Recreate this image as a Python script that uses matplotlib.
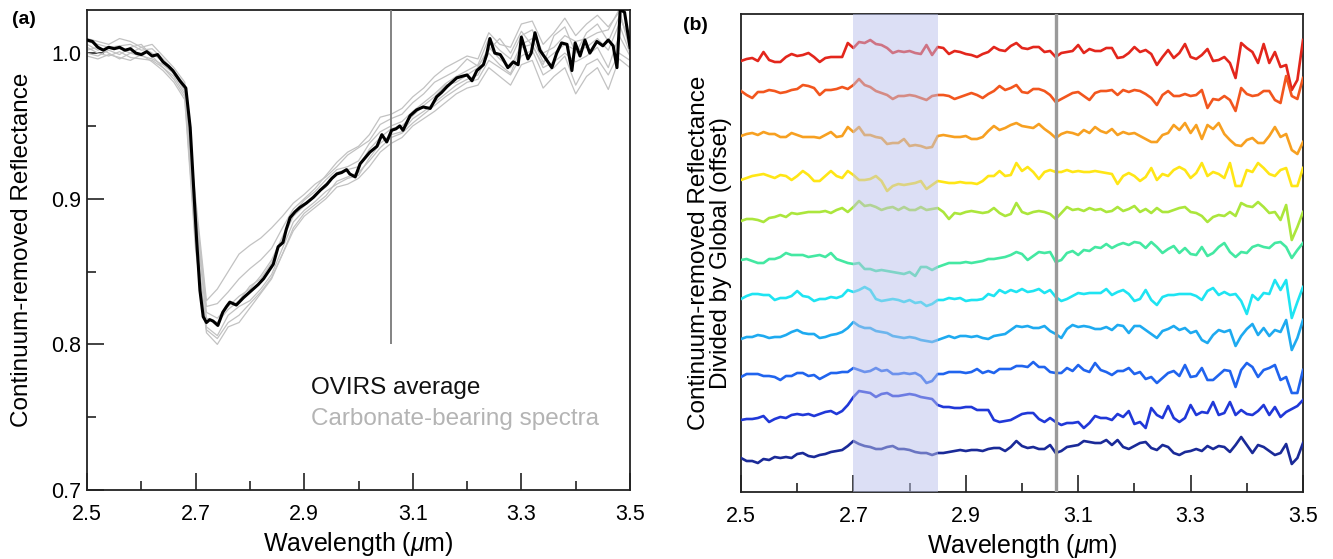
import numpy as np
import matplotlib
matplotlib.use("Agg")
import matplotlib.pyplot as plt
from matplotlib.ticker import FixedLocator, FormatStrFormatter

plt.rcParams['font.family'] = ['Liberation Sans', 'DejaVu Sans']
plt.rcParams['mathtext.fontset'] = 'custom'
plt.rcParams['mathtext.it'] = 'Liberation Sans:italic'
plt.rcParams['mathtext.rm'] = 'Liberation Sans'

# ---------------- panel (a): OVIRS average and carbonate-bearing spectra
avg_wl = [2.500, 2.510, 2.520, 2.530, 2.540, 2.550, 2.560, 2.570, 2.580, 2.590,
          2.600, 2.610, 2.620, 2.630, 2.640, 2.650, 2.658, 2.671, 2.682, 2.690,
          2.696, 2.702, 2.708, 2.714, 2.720, 2.726, 2.732, 2.741, 2.750, 2.757,
          2.763, 2.775, 2.788, 2.797, 2.806, 2.815, 2.825, 2.834, 2.843, 2.852,
          2.861, 2.867, 2.874, 2.883, 2.892, 2.904, 2.917, 2.930, 2.942, 2.951,
          2.960, 2.969, 2.978, 2.984, 2.994, 3.003, 3.012, 3.021, 3.034, 3.043,
          3.052, 3.061, 3.069, 3.076, 3.082, 3.095, 3.107, 3.119, 3.132, 3.144,
          3.153, 3.163, 3.172, 3.181, 3.190, 3.200, 3.209, 3.218, 3.230, 3.236,
          3.242, 3.251, 3.261, 3.266, 3.275, 3.285, 3.294, 3.300, 3.312, 3.318,
          3.325, 3.334, 3.347, 3.356, 3.365, 3.374, 3.384, 3.393, 3.399, 3.408,
          3.417, 3.426, 3.439, 3.450, 3.460, 3.469, 3.476, 3.482, 3.490, 3.500]
avg_refl = [1.009, 1.008, 1.004, 1.002, 1.004, 1.003, 1.004, 1.002, 1.003, 1.000,
            0.999, 1.001, 0.998, 0.999, 0.994, 0.991, 0.988, 0.981, 0.976, 0.949,
            0.910, 0.871, 0.837, 0.819, 0.815, 0.817, 0.816, 0.813, 0.822, 0.826,
            0.829, 0.827, 0.832, 0.835, 0.838, 0.841, 0.845, 0.850, 0.855, 0.867,
            0.870, 0.879, 0.887, 0.891, 0.894, 0.897, 0.901, 0.906, 0.910, 0.914,
            0.917, 0.918, 0.920, 0.917, 0.915, 0.924, 0.928, 0.932, 0.936, 0.944,
            0.939, 0.947, 0.948, 0.950, 0.947, 0.957, 0.961, 0.963, 0.962, 0.970,
            0.973, 0.977, 0.980, 0.983, 0.984, 0.985, 0.981, 0.988, 0.992, 0.999,
            1.010, 1.000, 0.999, 0.996, 0.990, 0.994, 0.992, 1.011, 0.996, 1.000,
            1.014, 1.002, 0.995, 0.990, 1.000, 1.007, 1.006, 0.988, 1.007, 0.998,
            1.009, 1.000, 1.008, 1.005, 1.009, 1.005, 0.990, 1.030, 1.028, 1.004]

spec_wl = np.round(np.arange(2.50, 3.501, 0.02), 2)
carb_1 = [1.000, 0.998, 1.002, 0.999, 1.004, 1.006, 0.998, 0.990, 0.984, 0.972,
          0.900, 0.830, 0.838, 0.850, 0.862, 0.868, 0.873, 0.880, 0.888, 0.897,
          0.903, 0.910, 0.915, 0.922, 0.930, 0.935, 0.940, 0.951, 0.955, 0.958,
          0.966, 0.972, 0.980, 0.984, 0.988, 0.996, 0.991, 1.002, 1.010, 1.000,
          1.015, 1.005, 0.992, 1.012, 1.018, 1.000, 1.014, 1.020, 1.008, 1.025,
          1.010]
carb_2 = [1.004, 1.000, 0.998, 1.001, 0.997, 0.996, 0.995, 0.990, 0.982, 0.970,
          0.870, 0.808, 0.800, 0.812, 0.815, 0.825, 0.835, 0.845, 0.862, 0.880,
          0.890, 0.896, 0.902, 0.912, 0.915, 0.918, 0.926, 0.935, 0.942, 0.945,
          0.952, 0.958, 0.964, 0.970, 0.975, 0.980, 0.982, 0.995, 0.990, 0.985,
          0.998, 1.002, 0.985, 0.990, 0.998, 0.978, 0.992, 0.996, 0.985, 1.000,
          0.995]
carb_3 = [1.008, 1.006, 1.004, 1.005, 1.006, 1.002, 1.003, 0.996, 0.988, 0.978,
          0.890, 0.822, 0.818, 0.826, 0.833, 0.838, 0.847, 0.858, 0.874, 0.890,
          0.899, 0.905, 0.913, 0.920, 0.922, 0.926, 0.938, 0.946, 0.950, 0.953,
          0.960, 0.966, 0.972, 0.979, 0.984, 0.988, 0.992, 1.010, 1.002, 0.996,
          1.012, 1.016, 1.000, 1.004, 1.012, 1.008, 1.010, 1.014, 1.016, 1.030,
          1.002]
carb_4 = [1.002, 1.004, 1.000, 0.996, 1.000, 0.998, 0.996, 0.992, 0.986, 0.974,
          0.875, 0.812, 0.806, 0.820, 0.826, 0.830, 0.838, 0.848, 0.866, 0.884,
          0.892, 0.898, 0.905, 0.910, 0.914, 0.916, 0.928, 0.938, 0.944, 0.946,
          0.955, 0.960, 0.966, 0.972, 0.978, 0.982, 0.985, 1.000, 0.992, 0.986,
          1.004, 1.006, 0.990, 0.994, 1.000, 0.994, 0.998, 1.004, 0.990, 1.012,
          0.998]
carb_5 = [1.006, 1.002, 1.004, 1.003, 1.000, 1.004, 1.000, 0.994, 0.986, 0.976,
          0.885, 0.818, 0.815, 0.824, 0.830, 0.840, 0.845, 0.856, 0.872, 0.888,
          0.895, 0.903, 0.908, 0.918, 0.920, 0.922, 0.934, 0.942, 0.948, 0.950,
          0.957, 0.964, 0.970, 0.978, 0.980, 0.985, 0.990, 1.004, 0.996, 0.990,
          1.006, 1.010, 0.994, 1.000, 1.006, 1.002, 1.004, 1.010, 1.002, 1.020,
          1.000]
carb_6 = [1.010, 1.008, 1.006, 1.010, 1.008, 1.004, 1.006, 0.998, 0.990, 0.980,
          0.895, 0.826, 0.828, 0.836, 0.845, 0.852, 0.858, 0.866, 0.880, 0.893,
          0.900, 0.907, 0.916, 0.925, 0.932, 0.936, 0.944, 0.956, 0.958, 0.962,
          0.970, 0.976, 0.984, 0.990, 0.994, 0.998, 0.996, 1.014, 1.006, 1.004,
          1.020, 1.022, 1.006, 1.014, 1.024, 1.012, 1.020, 1.026, 1.018, 1.028,
          1.005]
carb_7 = [0.998, 0.996, 0.999, 0.997, 0.995, 0.999, 0.994, 0.988, 0.980, 0.968,
          0.865, 0.810, 0.804, 0.815, 0.820, 0.828, 0.836, 0.846, 0.862, 0.878,
          0.888, 0.894, 0.900, 0.908, 0.910, 0.914, 0.922, 0.932, 0.938, 0.942,
          0.950, 0.955, 0.960, 0.966, 0.972, 0.976, 0.978, 0.990, 0.984, 0.978,
          0.992, 0.995, 0.976, 0.984, 0.990, 0.972, 0.984, 0.990, 0.975, 0.996,
          0.990]
carb_spectra = [carb_1, carb_2, carb_3, carb_4, carb_5, carb_6, carb_7]

marker_wl = 3.06
marker_bottom = 0.8

# ---------------- panel (b): spectra divided by global average (offset)
ratio_wl = np.round(np.arange(2.50, 3.5001, 0.01), 2)
# deviations in units of 0.001, 2.50 ... 3.50 step 0.01
dev_red = [-1, 1, 2, -1, 8, 0, -2, -2, 3, 6, 4, 5, 7, 3, -2, 2, 3, 3, 3, 17,
           12, 18, 17, 20, 16, 15, 12, 7, 9, 8, 9, 7, 6, 15, 5, 13, 12, 6, 9, 8,
           6, 5, 3, 6, 8, 13, 10, 9, 14, 17,
           12, 11, 13, 13, 8, 9, 3, 7, 8, 9, 15, 7, 11, 9, 9, 12, 12, 2, 3, 7,
           13, 8, 10, 6, -5, 3, 10, 2, 7, 16, 3, 1, 5, 11, -1, 0, 3, -3, -18, 17,
           12, 8, -3, 16, -3, 8, -7, -5, -30, -20, 20]
dev_redorange = [2, -2, -5, 1, 1, 3, 2, 0, 1, 3, 4, 8, 7, 5, -2, 3, 3, 4, 6, 4,
                 8, 14, 8, 6, 2, 0, -2, -6, -3, -3, -2, -3, -5, -7, -3, -2, -2, -3, -6, -4,
                 -2, 0, -2, -5, -1, 2, 7, 3, 5, 8,
                 1, 0, 4, 4, 2, -2, -9, -6, -3, 0, 1, -3, -7, 0, 2, 2, 3, -2, 3, 1,
                 3, 2, -1, -5, -12, -2, 2, -3, -3, -1, -3, -2, 3, -15, -6, -7, -3, -7, -18, 5,
                 -1, -3, -2, 2, 2, -7, -10, 17, -3, -6, 15]
dev_orange = [0, 2, 3, 1, 4, 2, 2, -1, -1, 3, 1, -1, -1, -1, -2, 1, 4, -1, 0, 9,
              4, 9, 1, 1, -1, -2, -8, -7, -7, -3, -10, -9, -10, -12, -11, 0, 1, 0, -1, -1,
              0, -3, -3, -1, 5, 10, 6, 8, 11, 13,
              10, 9, 8, 12, 7, 3, -2, 2, 4, 3, 1, 6, 3, 9, 5, 3, 7, 1, 4, 2,
              3, 0, -3, -6, -6, 1, 3, 11, 6, 13, 3, 11, -3, 11, 7, 13, 2, -4, -9, -10,
              -4, -2, -7, -7, 0, 9, -1, 2, -14, -18, -6]
dev_yellow = [-2, 0, 2, 3, 4, 2, 0, 3, 2, -2, 2, 7, 3, -3, -3, 2, 7, 2, 0, 7,
              3, -2, -2, -1, 2, -3, -13, -8, -6, -7, -6, -5, -3, -11, -7, -3, -4, -5, -5, -4,
              -5, -5, -6, -3, 2, 2, 7, 2, 3, 15,
              7, 11, 6, -1, 6, 8, 6, 6, 8, 6, 7, 6, 6, 7, 6, 5, 4, -6, 2, 5,
              2, -3, 1, 10, -2, 4, 2, 8, 11, 8, 0, 5, 15, 2, 6, 4, 0, 15, -8, -8,
              8, 6, 15, 10, 4, 2, 8, 10, -8, -8, 10]
dev_lime = [-1, 1, 1, 0, -2, 2, 3, 5, 3, 7, 6, 7, 8, 8, 8, 9, 7, 10, 12, 8,
            13, 19, 14, 15, 13, 10, 12, 13, 10, 13, 10, 10, 13, 10, 11, 12, 8, 1, 7, 6,
            8, 9, 8, 7, 8, 12, 7, 4, 6, 17,
            8, 6, 8, 9, 8, 6, 1, 7, 13, 10, 11, 9, 12, 10, 11, 8, 9, 13, 9, 11,
            14, 8, 11, 7, 12, 8, 8, 10, 12, 13, 8, 7, 4, -2, 3, 5, 4, 8, 4, 17,
            14, 13, 18, 13, 7, 8, 0, 15, -20, -7, 8]
dev_green = [0, 1, -1, -3, -3, 1, 1, 3, 7, 5, 5, 5, 3, 4, 5, 3, 7, 1, -1, -3,
             -4, -3, -9, -9, -11, -10, -11, -12, -13, -14, -12, -16, -7, -7, -10, -7, -5, -3, -3, -3,
             -2, -3, -2, -1, 1, 1, 2, 3, 5, 8,
             6, 0, 4, 8, 7, 8, -2, 0, 7, 9, 5, 10, 9, 13, 12, 16, 12, 15, 17, 15,
             18, 17, 12, 18, 13, 7, 11, 14, 7, 12, 6, 5, 13, 4, 7, 13, 17, 8, 3, 8,
             7, 13, 15, 13, 12, 17, 18, 13, 2, 10, 17]
dev_cyan = [-2, 1, 3, 3, 2, 2, -3, -1, -1, 1, 6, 1, 0, -4, -2, -2, 0, -1, 1, 7,
            5, 7, 10, 7, -2, -4, -3, -2, -3, -5, -3, -6, -5, -9, -7, -3, -3, -1, -2, -1,
            -4, -3, -3, -2, 3, 1, 7, 4, 7, 5,
            8, 5, 6, 8, 4, 7, 0, -4, -2, 1, 4, 3, 4, 4, 4, 8, 2, 5, 7, 3,
            -4, -2, 7, -3, -8, 0, 2, 2, 3, 3, 3, 1, -3, 6, 9, 2, 5, 2, 3, -4,
            -17, 2, -3, 4, 3, 17, 7, 17, -21, -5, 10]
dev_sky = [-1, 1, 1, 3, 2, 0, 1, 1, 3, 6, 8, 5, 4, 4, 0, 1, 3, 4, 6, 10,
           16, 12, 10, 10, 7, 6, 5, 2, 1, 0, 1, 0, -2, -3, -4, -2, 0, 2, 0, 2,
           2, 1, 2, 0, -1, 2, 3, 4, 8, 12,
           11, 12, 10, 10, 12, 7, 4, 0, 9, 13, 11, 12, 11, 9, 9, 11, 8, 13, 12, 5,
           12, 12, 8, 4, 0, 7, 9, 12, 8, 10, 5, 7, -2, -5, 3, 8, 6, 8, -8, 2,
           9, 14, 3, 10, 2, 8, 6, 18, -12, 0, 18]
dev_blue = [-2, 1, 1, 1, -1, -1, -2, -5, -1, -1, 2, 2, -1, 0, -4, -1, 2, 2, 3, 3,
            7, 5, 3, 4, 7, 4, 5, 1, 1, 2, 1, 2, -1, -8, -6, 1, 1, 3, 3, 3,
            2, 3, 6, 2, 4, 2, 6, 6, 6, 9,
            9, 8, 13, 8, 8, 3, 2, 2, 7, 4, 10, 5, 3, 12, 5, 3, 0, 4, 4, 7,
            1, 3, -4, -2, -8, -3, 2, 4, -1, 10, -2, -1, 7, -5, -5, 0, 5, 4, -12, 5,
            12, 8, -2, 5, 7, 10, -5, -2, -18, -18, 5]
dev_royal = [0, 1, 1, 2, 4, -2, 1, 3, 2, 5, 6, 5, 6, 4, 6, 8, 9, 6, 9, 15,
             23, 29, 28, 27, 23, 26, 27, 24, 24, 25, 26, 25, 23, 22, 21, 15, 13, 13, 12, 12,
             13, 13, 10, 10, 10, 0, -2, -1, 0, 3,
             6, 7, 7, 1, -2, 2, -2, -5, -3, -3, -2, -8, -3, 4, 2, 2, 0, 6, 3, 9,
             -4, -2, -8, 12, 5, 2, 14, 2, -2, 2, 15, 5, 8, 7, 18, 5, 7, 18, 5, 10,
             6, 5, 9, 15, 5, 13, 3, 8, 11, 14, 20]
dev_navy = [2, -1, -1, -3, 1, 0, 3, 2, 3, 2, 6, 7, 4, 3, 5, 6, 8, 9, 10, 14,
            19, 16, 14, 13, 11, 11, 13, 14, 11, 11, 10, 8, 7, 7, 5, 7, 7, 8, 9, 10,
            9, 10, 10, 9, 11, 12, 12, 9, 13, 19,
            14, 12, 13, 11, 11, 15, 7, 9, 13, 14, 15, 19, 18, 17, 17, 20, 15, 20, 13, 11,
            14, 17, 18, 12, 10, 15, 13, 7, 5, 8, 9, 11, 9, 14, 11, 14, 13, 8, 15, 23,
            15, 7, 15, 13, 9, 5, 7, 16, -4, 2, 17]

ratio_devs = [dev_red, dev_redorange, dev_orange, dev_yellow, dev_lime, dev_green,
              dev_cyan, dev_sky, dev_blue, dev_royal, dev_navy]
ratio_offsets = [0.432, 0.399, 0.356, 0.314, 0.272, 0.232, 0.195, 0.154, 0.117, 0.072, 0.032]
ratio_colors = ['#e3261c', '#f2561e', '#f7a021', '#ffe616', '#abe63c', '#44e8a2',
                '#1ee4f2', '#1eaaf0', '#2064ee', '#2038d8', '#1a2a98']
band_lo, band_hi = 2.70, 2.85

major_wl = [2.5, 2.7, 2.9, 3.1, 3.3, 3.5]
minor_wl = [2.6, 2.8, 3.0, 3.2, 3.4]

fig = plt.figure(figsize=(13.33, 5.59), dpi=100)

# ----- (a)
ax1 = fig.add_axes([87/1333, 69/559, 543/1333, 480/559])
for s in carb_spectra:
    ax1.plot(spec_wl, s, color='#c2c2c2', lw=0.9, zorder=2)
ax1.plot(avg_wl, avg_refl, color='black', lw=2.2, zorder=4)
ax1.vlines(marker_wl, marker_bottom, 1.0296, color='#7a7a7a', lw=1.3, zorder=3)
ax1.set_xlim(2.5, 3.5)
ax1.set_ylim(0.7, 1.0296)
ax1.yaxis.set_major_locator(FixedLocator([0.7, 0.8, 0.9, 1.0]))
ax1.yaxis.set_minor_locator(FixedLocator([0.75, 0.85, 0.95]))
ax1.yaxis.set_major_formatter(FormatStrFormatter('%.1f'))
ax1.text(2.912, 0.770, 'OVIRS average', fontsize=17.5, color='#111111', va='center')
ax1.text(2.912, 0.749, 'Carbonate-bearing spectra', fontsize=17.5, color='#b4b4b4', va='center')

# ----- (b)
ax2 = fig.add_axes([741/1333, 67/559, 562/1333, 478/559])
ax2.axvspan(band_lo, band_hi, color='#bac1ec', alpha=0.5, lw=0, zorder=5)
for dev, off, col in zip(ratio_devs, ratio_offsets, ratio_colors):
    ax2.plot(ratio_wl, off + np.array(dev) / 1000.0, color=col, lw=1.9, zorder=3)
ax2.axvline(marker_wl, color='#9a9a9a', lw=2.4, zorder=6)
ax2.set_xlim(2.5, 3.5)
ax2.set_ylim(0, 0.478)
ax2.set_yticks([])

for ax in (ax1, ax2):
    ax.xaxis.set_major_locator(FixedLocator(major_wl))
    ax.xaxis.set_minor_locator(FixedLocator(minor_wl))
    ax.xaxis.set_major_formatter(FormatStrFormatter('%.1f'))
    ax.set_xlabel('Wavelength ($\\mathit{\\mu}$m)', fontsize=18, labelpad=4)
    for sp in ax.spines.values():
        sp.set_linewidth(1.3)
        sp.set_color('#222222')
    ax.tick_params(which='major', direction='in', length=12, width=1.2,
                   top=False, right=False, labelsize=15.5, color='#222222')
    ax.tick_params(which='minor', direction='in', length=6.5, width=1.2,
                   top=False, right=False, color='#222222')
    ax.tick_params(axis='x', which='major', pad=10)
    ax.tick_params(axis='y', which='major', pad=4)

fig.text(22/1333, 1 - 250/559, 'Continuum-removed Reflectance', rotation=90,
         ha='center', va='center', fontsize=17.5)
fig.text(710/1333, 1 - 253/559, 'Continuum-removed Reflectance\nDivided by Global (offset)',
         rotation=90, ha='center', va='center', fontsize=17.5, linespacing=1.0,
         multialignment='center')

fig.text(24/1333, 1 - 20/559, '(a)', fontsize=14, fontweight='bold', ha='center', va='center')
fig.text(695/1333, 1 - 25/559, '(b)', fontsize=14, fontweight='bold', ha='center', va='center')

fig.savefig('out.png', dpi=100)
